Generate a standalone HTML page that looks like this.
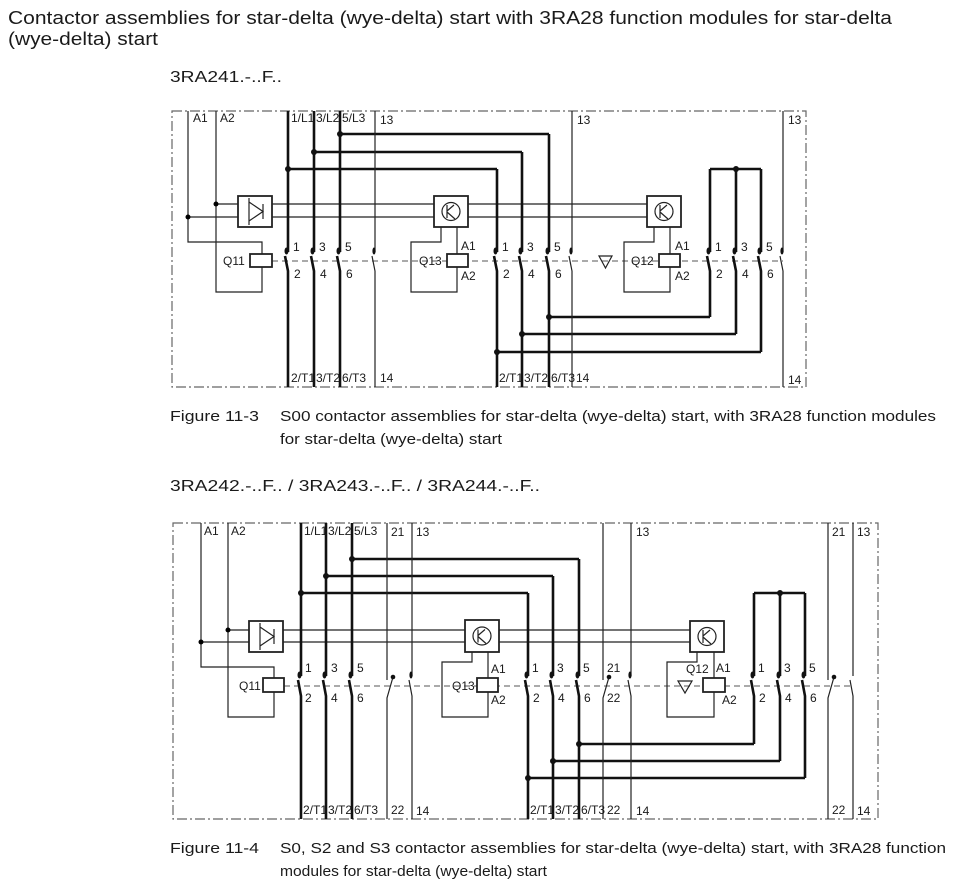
<!DOCTYPE html>
<html><head><meta charset="utf-8"><style>
html,body{margin:0;padding:0;background:#fff;}
svg{display:block;}
text{font-family:"Liberation Sans",Arial,sans-serif;fill:#1a1a1a;}
.l{font-size:12px;}
.th{stroke:#111;stroke-width:2.6;fill:none;}
.tn{stroke:#222;stroke-width:1.2;fill:none;}
.fr{stroke:#666;stroke-width:1.2;fill:none;stroke-dasharray:10,3,2,3;}
.da{stroke:#777;stroke-width:1.2;fill:none;stroke-dasharray:6,4;}
.bx{stroke:#222;stroke-width:1.8;fill:#fff;}
</style></head><body>
<svg width="953" height="889" viewBox="0 0 953 889" xmlns="http://www.w3.org/2000/svg">
<text x="8" y="24" font-size="18" textLength="884" lengthAdjust="spacingAndGlyphs">Contactor assemblies for star-delta (wye-delta) start with 3RA28 function modules for star-delta</text>
<text x="8" y="45" font-size="18" textLength="150" lengthAdjust="spacingAndGlyphs">(wye-delta) start</text>
<text x="170" y="82" font-size="16" textLength="112" lengthAdjust="spacingAndGlyphs">3RA241.-..F..</text>
<text x="170" y="421" font-size="15" textLength="89" lengthAdjust="spacingAndGlyphs">Figure 11-3</text>
<text x="280" y="421" font-size="14.5" textLength="656" lengthAdjust="spacingAndGlyphs">S00 contactor assemblies for star-delta (wye-delta) start, with 3RA28 function modules</text>
<text x="280" y="444" font-size="14.5" textLength="222" lengthAdjust="spacingAndGlyphs">for star-delta (wye-delta) start</text>
<text x="170" y="491" font-size="16" textLength="370" lengthAdjust="spacingAndGlyphs">3RA242.-..F.. / 3RA243.-..F.. / 3RA244.-..F..</text>
<text x="170" y="853" font-size="15" textLength="89" lengthAdjust="spacingAndGlyphs">Figure 11-4</text>
<text x="280" y="853" font-size="14.5" textLength="666" lengthAdjust="spacingAndGlyphs">S0, S2 and S3 contactor assemblies for star-delta (wye-delta) start, with 3RA28 function</text>
<text x="280" y="876" font-size="14.5" textLength="267" lengthAdjust="spacingAndGlyphs">modules for star-delta (wye-delta) start</text>

<!-- ===== TOP DIAGRAM ===== -->
<rect class="fr" x="172" y="111" width="634" height="276"/>
<path class="da" d="M272,261 H783"/>
<path class="tn" d="M188,111 V242 H262 V254 M216,111 V292 H262 V267 M188,217 H238 M216,204 H238 M272,204 H434 M272,217 H434 M468,204 H647 M468,217 H647"/>
<circle cx="188" cy="217" r="2.5"/><circle cx="216" cy="204" r="2.5"/>
<rect class="bx" x="238" y="196" width="34" height="31"/>
<path class="tn" d="M249,202 L263,211.5 L249,221 Z M249,198 V225 M263,204 V219"/>
<rect class="bx" x="250" y="254" width="22" height="13"/>
<text class="l" x="223" y="265">Q11</text>
<rect class="bx" x="434" y="196" width="34" height="31"/>
<circle class="tn" cx="451" cy="211.5" r="9"/><path class="tn" d="M447,205 V218 M447,211 L454,205 M447,212 L455,219"/>
<path class="tn" d="M441,227 V242 H411 V292 H457 V267 M457,227 V254"/>
<rect class="bx" x="447" y="254" width="21" height="13"/>
<text class="l" x="419" y="265">Q13</text><text class="l" x="461" y="250">A1</text><text class="l" x="461" y="280">A2</text>
<rect class="bx" x="647" y="196" width="34" height="31"/>
<circle class="tn" cx="664" cy="211.5" r="9"/><path class="tn" d="M660,205 V218 M660,211 L667,205 M660,212 L668,219"/>
<path class="tn" d="M654,227 V242 H624 V292 H670 V267 M670,227 V254"/>
<rect class="bx" x="659" y="254" width="21" height="13"/>
<text class="l" x="631" y="265">Q12</text><text class="l" x="675" y="250">A1</text><text class="l" x="675" y="280">A2</text>
<polygon class="tn" points="599,256 612,256 605.5,268"/>
<path class="th" d="M288,111 V252 M285,256 L288,271 V387 M314,111 V252 M311,256 L314,271 V387 M340,111 V252 M337,256 L340,271 V387
M497,169 V252 M494,256 L497,271 V387 M522,152 V252 M519,256 L522,271 V387 M549,134 V252 M546,256 L549,271 V387
M710,169 V252 M707,256 L710,271 V317 M736,169 V252 M733,256 L736,271 V334 M761,169 V252 M758,256 L761,271 V352
M288,169 H497 M314,152 H522 M340,134 H549 M710,169 H761 M549,317 H710 M522,334 H736 M497,352 H761"/>
<path class="tn" d="M375,111 V252 M372,256 L375,271 V387 M572,111 V252 M569,256 L572,271 V387 M783,111 V252 M780,256 L783,271 V387"/>
<g fill="#111">
<ellipse cx="286.5" cy="251" rx="2" ry="3.5"/><ellipse cx="312.5" cy="251" rx="2" ry="3.5"/><ellipse cx="338.5" cy="251" rx="2" ry="3.5"/><ellipse cx="374" cy="251" rx="1.6" ry="3.5"/>
<ellipse cx="495.5" cy="251" rx="2" ry="3.5"/><ellipse cx="520.5" cy="251" rx="2" ry="3.5"/><ellipse cx="547.5" cy="251" rx="2" ry="3.5"/><ellipse cx="571" cy="251" rx="1.6" ry="3.5"/>
<ellipse cx="708.5" cy="251" rx="2" ry="3.5"/><ellipse cx="734.5" cy="251" rx="2" ry="3.5"/><ellipse cx="759.5" cy="251" rx="2" ry="3.5"/><ellipse cx="782" cy="251" rx="1.6" ry="3.5"/>
<circle cx="288" cy="169" r="3"/><circle cx="314" cy="152" r="3"/><circle cx="340" cy="134" r="3"/><circle cx="736" cy="169" r="3"/>
<circle cx="549" cy="317" r="3"/><circle cx="522" cy="334" r="3"/><circle cx="497" cy="352" r="3"/>
</g>
<g>
<text class="l" x="193" y="122">A1</text><text class="l" x="220" y="122">A2</text>
<text class="l" x="291" y="122">1/L1</text><text class="l" x="316" y="122">3/L2</text><text class="l" x="342" y="122">5/L3</text>
<text class="l" x="380" y="124">13</text><text class="l" x="577" y="124">13</text><text class="l" x="788" y="124">13</text>
<text class="l" x="293" y="251">1</text><text class="l" x="319" y="251">3</text><text class="l" x="345" y="251">5</text>
<text class="l" x="294" y="278">2</text><text class="l" x="320" y="278">4</text><text class="l" x="346" y="278">6</text>
<text class="l" x="502" y="251">1</text><text class="l" x="527" y="251">3</text><text class="l" x="554" y="251">5</text>
<text class="l" x="503" y="278">2</text><text class="l" x="528" y="278">4</text><text class="l" x="555" y="278">6</text>
<text class="l" x="715" y="251">1</text><text class="l" x="741" y="251">3</text><text class="l" x="766" y="251">5</text>
<text class="l" x="716" y="278">2</text><text class="l" x="742" y="278">4</text><text class="l" x="767" y="278">6</text>
<text class="l" x="291" y="382">2/T1</text><text class="l" x="316" y="382">3/T2</text><text class="l" x="342" y="382">6/T3</text><text class="l" x="380" y="382">14</text>
<text class="l" x="499" y="382">2/T1</text><text class="l" x="524" y="382">3/T2</text><text class="l" x="551" y="382">6/T3</text><text class="l" x="576" y="382">14</text>
<text class="l" x="788" y="384">14</text>
</g>

<!-- ===== BOTTOM DIAGRAM ===== -->
<rect class="fr" x="173" y="523" width="705" height="296"/>
<path class="da" d="M284,686 H853"/>
<path class="tn" d="M201,523 V667 H274 V678 M228,523 V717 H274 V692 M201,642 H249 M228,630 H249 M283,630 H465 M283,642 H465 M499,630 H690 M499,642 H690"/>
<circle cx="201" cy="642" r="2.5"/><circle cx="228" cy="630" r="2.5"/>
<rect class="bx" x="249" y="621" width="34" height="31"/>
<path class="tn" d="M260,627 L274,636.5 L260,646 Z M260,623 V650 M274,629 V644"/>
<rect class="bx" x="263" y="678" width="21" height="14"/>
<text class="l" x="239" y="690">Q11</text>
<rect class="bx" x="465" y="620" width="34" height="32"/>
<circle class="tn" cx="482" cy="636" r="9"/><path class="tn" d="M478,629.5 V642.5 M478,635.5 L485,629.5 M478,636.5 L486,643.5"/>
<path class="tn" d="M472,652 V662 H442 V717 H488 V692 M488,652 V678"/>
<rect class="bx" x="477" y="678" width="21" height="14"/>
<text class="l" x="452" y="690">Q13</text><text class="l" x="491" y="673">A1</text><text class="l" x="491" y="704">A2</text>
<rect class="bx" x="690" y="621" width="34" height="31"/>
<circle class="tn" cx="707" cy="636.5" r="9"/><path class="tn" d="M703,630 V643 M703,636 L710,630 M703,637 L711,644"/>
<path class="tn" d="M697,652 V662 H667 V717 H714 V692 M714,652 V678"/>
<rect class="bx" x="703" y="678" width="22" height="14"/>
<text class="l" x="686" y="673">Q12</text><text class="l" x="716" y="672">A1</text><text class="l" x="722" y="704">A2</text>
<polygon class="tn" points="678,681 692,681 685,693"/>
<path class="th" d="M301,523 V676 M298,680 L301,696 V819 M326,523 V676 M323,680 L326,696 V819 M352,523 V676 M349,680 L352,696 V819
M528,593 V676 M525,680 L528,696 V819 M553,576 V676 M550,680 L553,696 V819 M579,559 V676 M576,680 L579,696 V819
M754,593 V676 M751,680 L754,696 V744 M780,593 V676 M777,680 L780,696 V761 M805,593 V676 M802,680 L805,696 V778
M301,593 H528 M326,576 H553 M352,559 H579 M754,593 H805 M579,744 H754 M553,761 H780 M528,778 H805"/>
<path class="tn" d="M412,523 V676 M409,680 L412,696 V819 M631,523 V676 M628,680 L631,696 V819 M853,523 V676 M850,680 L853,696 V819
M387,523 V680 M393,677 L387,698 V819 M603,523 V680 M609,677 L603,698 V819 M828,523 V680 M834,677 L828,698 V819"/>
<g fill="#111">
<ellipse cx="299.5" cy="675" rx="2" ry="3.5"/><ellipse cx="324.5" cy="675" rx="2" ry="3.5"/><ellipse cx="350.5" cy="675" rx="2" ry="3.5"/><ellipse cx="411" cy="675" rx="1.6" ry="3.5"/>
<ellipse cx="526.5" cy="675" rx="2" ry="3.5"/><ellipse cx="551.5" cy="675" rx="2" ry="3.5"/><ellipse cx="577.5" cy="675" rx="2" ry="3.5"/><ellipse cx="630" cy="675" rx="1.6" ry="3.5"/>
<ellipse cx="752.5" cy="675" rx="2" ry="3.5"/><ellipse cx="778.5" cy="675" rx="2" ry="3.5"/><ellipse cx="803.5" cy="675" rx="2" ry="3.5"/>
<circle cx="393" cy="677" r="2.3"/><circle cx="609" cy="677" r="2.3"/><circle cx="834" cy="677" r="2.3"/>
<circle cx="301" cy="593" r="3"/><circle cx="326" cy="576" r="3"/><circle cx="352" cy="559" r="3"/><circle cx="780" cy="593" r="3"/>
<circle cx="579" cy="744" r="3"/><circle cx="553" cy="761" r="3"/><circle cx="528" cy="778" r="3"/>
</g>
<g>
<text class="l" x="204" y="535">A1</text><text class="l" x="231" y="535">A2</text>
<text class="l" x="304" y="535">1/L1</text><text class="l" x="328" y="535">3/L2</text><text class="l" x="354" y="535">5/L3</text>
<text class="l" x="391" y="536">21</text><text class="l" x="416" y="536">13</text><text class="l" x="636" y="536">13</text>
<text class="l" x="832" y="536">21</text><text class="l" x="857" y="536">13</text>
<text class="l" x="305" y="672">1</text><text class="l" x="331" y="672">3</text><text class="l" x="357" y="672">5</text>
<text class="l" x="305" y="702">2</text><text class="l" x="331" y="702">4</text><text class="l" x="357" y="702">6</text>
<text class="l" x="532" y="672">1</text><text class="l" x="557" y="672">3</text><text class="l" x="583" y="672">5</text><text class="l" x="607" y="672">21</text>
<text class="l" x="533" y="702">2</text><text class="l" x="558" y="702">4</text><text class="l" x="584" y="702">6</text><text class="l" x="607" y="702">22</text>
<text class="l" x="758" y="672">1</text><text class="l" x="784" y="672">3</text><text class="l" x="809" y="672">5</text>
<text class="l" x="759" y="702">2</text><text class="l" x="785" y="702">4</text><text class="l" x="810" y="702">6</text>
<text class="l" x="303" y="814">2/T1</text><text class="l" x="328" y="814">3/T2</text><text class="l" x="354" y="814">6/T3</text><text class="l" x="391" y="814">22</text><text class="l" x="416" y="815">14</text>
<text class="l" x="530" y="814">2/T1</text><text class="l" x="555" y="814">3/T2</text><text class="l" x="581" y="814">6/T3</text><text class="l" x="607" y="814">22</text><text class="l" x="636" y="815">14</text>
<text class="l" x="832" y="814">22</text><text class="l" x="857" y="815">14</text>
</g>
</svg>
</body></html>
